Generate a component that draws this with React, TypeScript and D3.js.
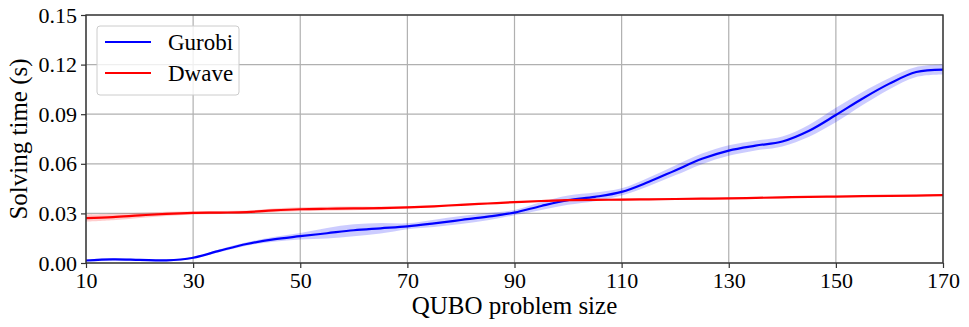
import React, { useEffect, useRef } from 'react';
import * as d3 from 'd3';

const sizes = [10, 15, 20, 25, 30, 35, 40, 45, 50, 55, 60, 65, 70, 75, 80, 85, 90, 95, 100, 105, 110, 115, 120, 125, 130, 135, 140, 145, 150, 155, 160, 165, 170];

const gurobi = [0.0015, 0.0022, 0.0019, 0.0016, 0.0032, 0.0075, 0.0115, 0.0143, 0.0162, 0.018, 0.0198, 0.021, 0.0222, 0.024, 0.026, 0.028, 0.0305, 0.0345, 0.038, 0.04, 0.043, 0.049, 0.056, 0.063, 0.068, 0.071, 0.0735, 0.08, 0.0895, 0.0995, 0.1085, 0.1155, 0.117];
const gurobiErr = [0.0006, 0.0006, 0.0005, 0.0005, 0.0006, 0.0008, 0.001, 0.0014, 0.002, 0.0032, 0.0036, 0.0032, 0.0018, 0.0022, 0.0024, 0.0022, 0.0016, 0.0024, 0.0028, 0.0026, 0.0022, 0.0026, 0.003, 0.0032, 0.0032, 0.003, 0.003, 0.0036, 0.0044, 0.004, 0.0034, 0.003, 0.003];

const dwave = [0.0272, 0.0278, 0.0288, 0.0297, 0.0303, 0.0305, 0.0308, 0.0318, 0.0325, 0.0328, 0.033, 0.0332, 0.0336, 0.0343, 0.0352, 0.036, 0.0368, 0.0375, 0.038, 0.0382, 0.0383, 0.0385, 0.0387, 0.0389, 0.0391, 0.0394, 0.0397, 0.04, 0.0402, 0.0404, 0.0406, 0.0408, 0.041];
const dwaveErr = [0.0022, 0.002, 0.0016, 0.0013, 0.001, 0.0009, 0.0009, 0.0011, 0.0012, 0.0012, 0.0011, 0.0009, 0.0007, 0.0006, 0.0006, 0.0005, 0.0005, 0.0006, 0.0007, 0.0007, 0.0006, 0.0005, 0.0005, 0.0005, 0.0005, 0.0005, 0.0005, 0.0005, 0.0005, 0.0005, 0.0005, 0.0005, 0.0005];

const xTicks = [10, 30, 50, 70, 90, 110, 130, 150, 170];
const yTicks = [0, 0.03, 0.06, 0.09, 0.12, 0.15];

const series = [
  { name: 'Gurobi', values: gurobi, err: gurobiErr, color: '#0000ff', fill: 'rgba(0,0,255,0.2)' },
  { name: 'Dwave', values: dwave, err: dwaveErr, color: '#ff0000', fill: 'rgba(255,0,0,0.2)' },
];

const App = () => {
  const svgRef = useRef<SVGSVGElement>(null);

  useEffect(() => {
    const svg = d3.select(svgRef.current);
    svg.selectAll('*').remove();

    const margin = { top: 15, right: 26, bottom: 64, left: 86 };
    const width = 969 - margin.left - margin.right;
    const height = 327 - margin.top - margin.bottom;
    const font = '"Liberation Serif", "DejaVu Serif", serif';

    const x = d3.scaleLinear().domain([10, 170]).range([0, width]);
    const y = d3.scaleLinear().domain([0, 0.15]).range([height, 0]);

    const g = svg.append('g').attr('transform', `translate(${margin.left},${margin.top})`);

    // grid
    g.selectAll('.vgrid').data(xTicks).enter().append('line')
      .attr('x1', d => x(d)).attr('x2', d => x(d))
      .attr('y1', 0).attr('y2', height)
      .attr('stroke', '#b0b0b0').attr('stroke-width', 1.2);
    g.selectAll('.hgrid').data(yTicks).enter().append('line')
      .attr('x1', 0).attr('x2', width)
      .attr('y1', d => y(d)).attr('y2', d => y(d))
      .attr('stroke', '#b0b0b0').attr('stroke-width', 1.2);

    const curve = d3.curveCatmullRom.alpha(0.5);

    series.forEach(s => {
      const area = d3.area<number>()
        .x((_, i) => x(sizes[i]))
        .y0((d, i) => y(d - s.err[i]))
        .y1((d, i) => y(d + s.err[i]))
        .curve(curve);
      g.append('path').datum(s.values).attr('d', area).attr('fill', s.fill);
    });
    series.forEach(s => {
      const line = d3.line<number>()
        .x((_, i) => x(sizes[i]))
        .y(d => y(d))
        .curve(curve);
      g.append('path').datum(s.values).attr('d', line)
        .attr('fill', 'none').attr('stroke', s.color).attr('stroke-width', 2.2);
    });

    // axes
    const xAxis = g.append('g').attr('transform', `translate(0,${height})`)
      .call(d3.axisBottom(x).tickValues(xTicks).tickFormat(d3.format('d')).tickSize(5).tickPadding(4));
    const yAxis = g.append('g')
      .call(d3.axisLeft(y).tickValues(yTicks).tickFormat(d3.format('.2f')).tickSize(5).tickPadding(4));
    [xAxis, yAxis].forEach(a => {
      a.select('.domain').remove();
      a.selectAll('line').attr('stroke', '#333').attr('stroke-width', 1.2);
      a.selectAll('text').style('font-family', font).style('font-size', '22px').attr('fill', '#000');
    });

    g.append('rect').attr('x', 0).attr('y', 0).attr('width', width).attr('height', height)
      .attr('fill', 'none').attr('stroke', '#333').attr('stroke-width', 1.4);

    // axis labels
    svg.append('text')
      .attr('x', margin.left + width / 2).attr('y', 314)
      .attr('text-anchor', 'middle')
      .style('font-family', font).style('font-size', '25px')
      .text('QUBO problem size');
    svg.append('text')
      .attr('transform', `translate(27,${margin.top + height / 2}) rotate(-90)`)
      .attr('text-anchor', 'middle')
      .style('font-family', font).style('font-size', '25px')
      .text('Solving time (s)');

    // legend
    const lg = svg.append('g').attr('transform', 'translate(97,26)');
    lg.append('rect').attr('width', 142).attr('height', 69).attr('rx', 3)
      .attr('fill', 'rgba(255,255,255,0.8)').attr('stroke', '#cccccc');
    series.forEach((s, i) => {
      const yy = 16 + i * 31;
      lg.append('line').attr('x1', 8).attr('x2', 54).attr('y1', yy).attr('y2', yy)
        .attr('stroke', s.color).attr('stroke-width', 2);
      lg.append('text').attr('x', 71).attr('y', yy + 8)
        .style('font-family', font).style('font-size', '23px')
        .text(s.name);
    });
  }, []);

  return <svg ref={svgRef} width={969} height={327} style={{ display: 'block', margin: '-8px' }} />;
};

export default App;
